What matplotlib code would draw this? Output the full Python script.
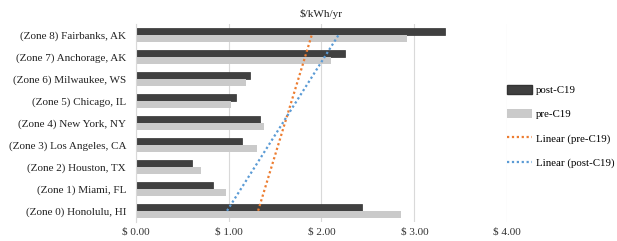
import matplotlib.pyplot as plt
import numpy as np
from matplotlib.patches import Patch
from matplotlib.lines import Line2D

plt.rcParams['font.family'] = ['Liberation Serif', 'DejaVu Serif']

zones = ['(Zone 0) Honolulu, HI', '(Zone 1) Miami, FL', '(Zone 2) Houston, TX',
         '(Zone 3) Los Angeles, CA', '(Zone 4) New York, NY', '(Zone 5) Chicago, IL',
         '(Zone 6) Milwaukee, WS', '(Zone 7) Anchorage, AK', '(Zone 8) Fairbanks, AK']
post_c19 = [2.44, 0.83, 0.61, 1.14, 1.34, 1.08, 1.23, 2.25, 3.33]
pre_c19 = [2.86, 0.97, 0.70, 1.31, 1.38, 1.03, 1.19, 2.10, 2.92]
xticks = [0, 1, 2, 3, 4]
xtick_labels = ['$ 0.00', '$ 1.00', '$ 2.00', '$ 3.00', '$ 4.00']

dark = '#404040'
light = '#cacaca'
orange = '#ED7D31'
blue = '#5B9BD5'
fs = 8

fig = plt.figure(figsize=(6.17, 2.41), dpi=100)
ax = fig.add_axes([0.220, 0.08, 0.602, 0.82])

y = np.arange(len(zones))
h = 0.32
ax.barh(y + h / 2, post_c19, height=h, color=dark, edgecolor='#333333', linewidth=0.5, zorder=2)
ax.barh(y - h / 2, pre_c19, height=h, color=light, zorder=2)

# Excel style linear trendlines (value vs category index)
for vals, col in [(pre_c19, orange), (post_c19, blue)]:
    k, b = np.polyfit(y, vals, 1)
    ax.plot(k * y[[0, -1]] + b, y[[0, -1]], color=col, linestyle=(0, (1, 1.2)),
            linewidth=1.6, zorder=3)

ax.set_xlim(0, 4)
ax.set_ylim(-0.5, 8.5)
ax.set_xticks(xticks)
ax.set_xticklabels(xtick_labels, fontsize=fs, color='#333333')
ax.set_yticks(y)
ax.set_yticklabels(zones, fontsize=fs, color='#222222')
ax.tick_params(length=0, pad=7)
ax.tick_params(axis='x', pad=4)
ax.grid(axis='x', color='#d9d9d9', linewidth=0.8, zorder=0)
for s in ['top', 'right', 'bottom']:
    ax.spines[s].set_visible(False)
ax.spines['left'].set_color('#d9d9d9')
ax.set_title('$/kWh/yr', fontsize=fs, pad=5, color='#222222')

handles = [Patch(facecolor=dark, edgecolor='#333333'),
           Patch(facecolor=light),
           Line2D([0], [0], color=orange, linestyle=(0, (1, 1.2)), linewidth=1.6),
           Line2D([0], [0], color=blue, linestyle=(0, (1, 1.2)), linewidth=1.6)]
labels = ['post-C19', 'pre-C19', 'Linear (pre-C19)', 'Linear (post-C19)']
fig.legend(handles, labels, loc='center left', bbox_to_anchor=(0.817, 0.475),
           frameon=False, fontsize=7.8, handlelength=2.3, handleheight=0.9,
           labelspacing=1.3, handletextpad=0.35, borderaxespad=0, borderpad=0.3)

fig.savefig('out.png', dpi=100)
